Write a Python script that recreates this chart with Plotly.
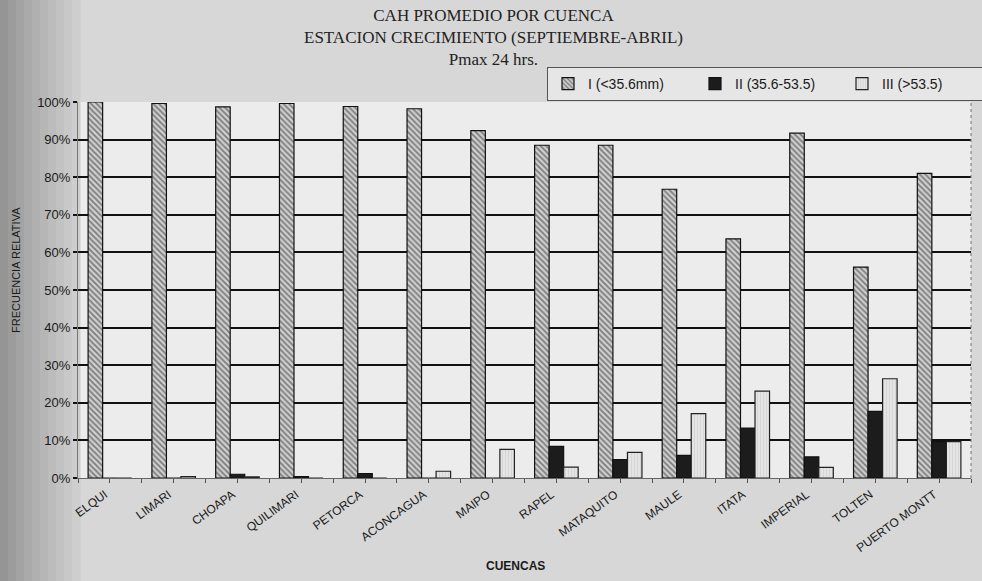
import plotly.graph_objects as go

cuencas = ["ELQUI", "LIMARI", "CHOAPA", "QUILIMARI", "PETORCA", "ACONCAGUA", "MAIPO",
           "RAPEL", "MATAQUITO", "MAULE", "ITATA", "IMPERIAL", "TOLTEN", "PUERTO MONTT"]
serie_I = [100.0, 99.6, 98.7, 99.6, 98.8, 98.2, 92.4, 88.5, 88.5, 76.8, 63.6, 91.7, 56.1, 81.0]
serie_II = [0.0, 0.0, 1.0, 0.4, 1.2, 0.0, 0.0, 8.4, 4.9, 6.0, 13.3, 5.6, 17.7, 9.7]
serie_III = [0.0, 0.4, 0.3, 0.0, 0.0, 1.8, 7.6, 2.9, 6.8, 17.1, 23.1, 2.8, 26.4, 9.7]
nombres = ["I (<35.6mm)", "II (35.6-53.5)", "III (>53.5)"]
y_ticks = [0, 10, 20, 30, 40, 50, 60, 70, 80, 90, 100]
titulo = ["CAH PROMEDIO POR CUENCA", "ESTACION CRECIMIENTO (SEPTIEMBRE-ABRIL)", "Pmax 24 hrs."]

W, H = 982, 581
L, R, T, B = 78, 11, 102, 103
PW, PH = W - L - R, H - T - B


def px(xp):
    return (xp - L) / PW


def py(yp):
    return (H - B - yp) / PH


idx = list(range(len(cuencas)))

fig = go.Figure()
fig.add_trace(go.Bar(
    x=idx, y=serie_I, name=nombres[0],
    marker=dict(color="#cfcfcf", line=dict(color="#111111", width=1.2),
                pattern=dict(shape="\\", fgcolor="#2a2a2a", size=4, solidity=0.45)),
))
fig.add_trace(go.Bar(
    x=idx, y=serie_II, name=nombres[1],
    marker=dict(color="#1c1c1c", line=dict(color="#111111", width=1.2)),
))
fig.add_trace(go.Bar(
    x=idx, y=serie_III, name=nombres[2],
    marker=dict(color="#e4e4e4", line=dict(color="#222222", width=1.2),
                pattern=dict(shape="|", fgcolor="#c6c6c6", size=3, solidity=0.3)),
))

shapes = []
# scanned-paper darker band on the left
strips = ["#959595", "#9c9c9c", "#a3a3a3", "#aaaaaa", "#b0b0b0", "#b6b6b6",
          "#bcbcbc", "#c2c2c2", "#c8c8c8", "#cecece"]
sw = 80 / len(strips)
for i, c in enumerate(strips):
    shapes.append(dict(type="rect", xref="paper", yref="paper",
                       x0=px(i * sw), x1=px((i + 1) * sw + 0.5), y0=py(H), y1=py(0),
                       fillcolor=c, line=dict(width=0), layer="below"))
# dotted right border of plot area
shapes.append(dict(type="line", xref="paper", yref="paper", x0=1, x1=1, y0=0, y1=1,
                   line=dict(color="#777777", width=1, dash="dot")))

ann = [
    dict(text="<br>".join(titulo), x=px(493), y=py(38), xref="paper", yref="paper",
         xanchor="center", yanchor="middle", showarrow=False, align="center",
         font=dict(family="Liberation Serif", size=17, color="#222222")),
    dict(text="FRECUENCIA RELATIVA", x=px(16), y=py(270), xref="paper", yref="paper",
         textangle=-90, showarrow=False, xanchor="center", yanchor="middle",
         font=dict(family="Liberation Sans", size=11, color="#1a1a1a")),
    dict(text="<b>CUENCAS</b>", x=px(515), y=py(566), xref="paper", yref="paper",
         showarrow=False, xanchor="center", yanchor="middle",
         font=dict(family="Liberation Sans", size=12, color="#1a1a1a")),
]

fig.update_layout(
    width=W, height=H,
    margin=dict(l=L, r=R, t=T, b=B, pad=0, autoexpand=False),
    paper_bgcolor="#d7d7d7",
    plot_bgcolor="#ececec",
    barmode="group", bargap=0.317, bargroupgap=0,
    font=dict(family="Liberation Sans", color="#1a1a1a"),
    showlegend=True,
    legend=dict(orientation="h", x=px(547), y=py(67), xanchor="left", yanchor="top",
                bgcolor="#e6e6e6", bordercolor="#555555", borderwidth=1,
                font=dict(size=14, color="#1a1a1a"), entrywidth=102, entrywidthmode="pixels",
                traceorder="normal"),
    shapes=shapes,
    annotations=ann,
)
fig.update_xaxes(
    range=[-0.5, len(cuencas) - 0.5],
    tickmode="array", tickvals=idx, ticktext=cuencas, tickangle=-36,
    ticklabelshift=-5,
    tickfont=dict(family="Liberation Sans", size=12, color="#1a1a1a"),
    ticks="outside", ticklen=4, tickcolor="#555555", tickwidth=1,
    minor=dict(tick0=-0.5, dtick=1, ticks="outside", ticklen=4, tickcolor="#555555", tickwidth=1),
    showline=True, linecolor="#666666", linewidth=1,
    showgrid=False, zeroline=False, automargin=False,
)
fig.update_yaxes(
    range=[0, 100], tickmode="array", tickvals=y_ticks,
    ticktext=[f"{v}%" for v in y_ticks],
    tickfont=dict(family="Liberation Sans", size=13, color="#1a1a1a"),
    ticks="outside", ticklen=4, tickcolor="#111111", tickwidth=2,
    showline=True, linecolor="#777777", linewidth=1,
    showgrid=True, gridcolor="#111111", gridwidth=2,
    zeroline=False, automargin=False,
)

fig.write_html("out.html")
